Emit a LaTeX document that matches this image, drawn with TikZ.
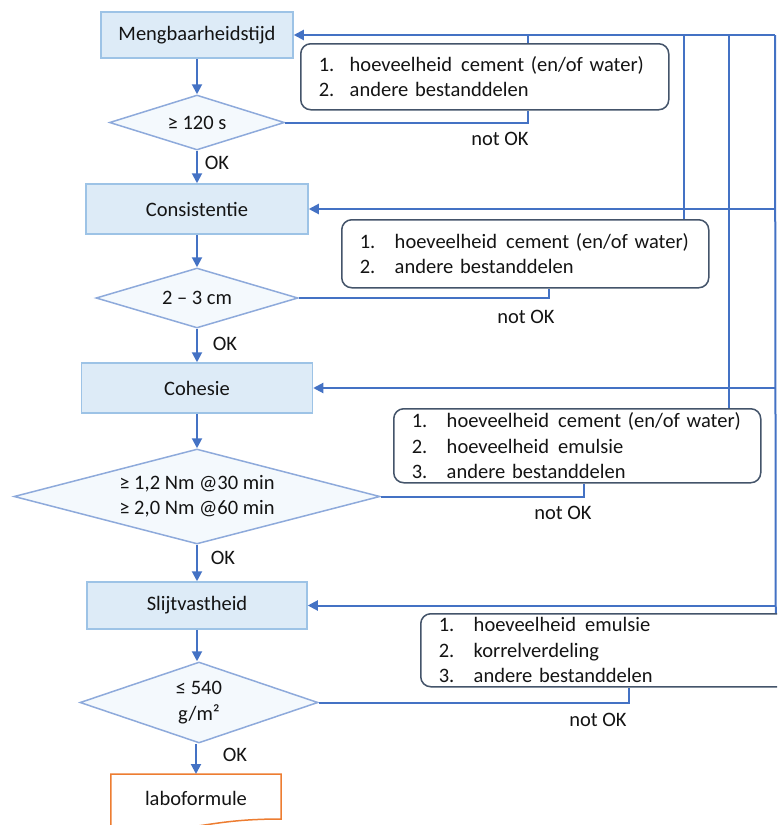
\documentclass[tikz,border=0pt]{standalone}
\usepackage{fontspec}
\setmainfont{Carlito}
\usetikzlibrary{shapes.geometric,arrows.meta,calc}
\definecolor{connc}{HTML}{4472C4}
\definecolor{boxfill}{HTML}{DDEBF7}
\definecolor{boxline}{HTML}{9DC3E6}
\definecolor{diafill}{HTML}{F4F9FD}
\definecolor{dialine}{HTML}{8EAADB}
\definecolor{listline}{HTML}{44546A}
\definecolor{labo}{HTML}{ED7D31}
\definecolor{txt}{HTML}{141414}
\begin{document}
\begin{tikzpicture}[x=1pt,y=-1pt,
  font=\fontsize{20.5}{25.5}\selectfont,
  flowbox/.style={draw=boxline, fill=boxfill, line width=1.5pt, minimum width=#1, inner sep=0pt, text=txt},
  dia/.style={shape=diamond, shape aspect=4, draw=dialine, fill=diafill, line width=1.5pt, inner sep=0pt, text=txt, align=center},
  listbox/.style={draw=listline, fill=white, line width=1.5pt, rounded corners=10pt, inner xsep=18pt, inner ysep=0pt, align=left, text=txt, anchor=north west},
  conn/.style={draw=connc, line width=2pt},
  arr/.style={conn, -{Triangle[length=10pt,width=10pt]}},
  lbl/.style={inner sep=0pt, text=txt}]
\useasboundingbox (0,0) rectangle (777,825);
\clip (0,0) rectangle (777,825);

% main flow
\node[flowbox=192pt, minimum height=46pt] (b1) at (197,35) {Mengbaarheidstijd};
\node[dia, minimum width=175pt, minimum height=55pt] (d1) at (197,122.5) {≥ 120 s};
\node[flowbox=222pt, minimum height=50pt] (b2) at (197,209) {Consistentie};
\node[dia, minimum width=202pt, minimum height=60pt] (d2) at (197,298) {2 – 3 cm};
\node[flowbox=231pt, minimum height=50pt] (b3) at (197,388) {Cohesie};
\node[dia, minimum width=366pt, minimum height=95pt] (d3) at (197,496.5) {≥ 1,2 Nm @30 min\\≥ 2,0 Nm @60 min};
\node[flowbox=220pt, minimum height=47pt] (b4) at (197,605.5) {Slijtvastheid};
\node[dia, minimum width=238pt, minimum height=81pt] (d4) at (199,702.5) {≤ 540\\g/m²};
\node[inner sep=0pt, minimum width=170pt, minimum height=48pt, anchor=north, text=txt] (b5) at (196,774) {laboformule};
\draw[draw=labo, line width=1.5pt] (b5.north west) -- (b5.north east) -- ($(b5.north east)+(0,45)$)
  .. controls ($(b5.north)+(0,45)$) and ($(b5.north)+(0,62)$) .. ($(b5.north west)+(0,52)$) -- cycle;

% remedy boxes
\node[listbox, text width=332pt, minimum height=66pt] (l1) at (300,43)
  {\makebox[31pt][l]{1.}hoeveelheid\hspace{0.45em}cement (en/of water)\\\makebox[31pt][l]{2.}andere bestanddelen};
\node[listbox, text width=331pt, minimum height=68pt] (l2) at (341,219)
  {\makebox[35pt][l]{1.}hoeveelheid\hspace{0.45em}cement (en/of water)\\\makebox[35pt][l]{2.}andere bestanddelen};
\node[listbox, text width=331pt, minimum height=74pt] (l3) at (393,408)
  {\makebox[35pt][l]{1.}hoeveelheid\hspace{0.45em}cement (en/of water)\\\makebox[35pt][l]{2.}hoeveelheid\hspace{0.45em}emulsie\\\makebox[35pt][l]{3.}andere bestanddelen};
\node[listbox, text width=364pt, minimum height=73pt] (l4) at (420,613)
  {\makebox[35pt][l]{1.}hoeveelheid\hspace{0.45em}emulsie\\\makebox[35pt][l]{2.}korrelverdeling\\\makebox[35pt][l]{3.}andere bestanddelen};

% labels
\node[lbl] (ok1) at (217,163) {OK};
\node[lbl] (ok2) at (225,344) {OK};
\node[lbl] (ok3) at (223,558) {OK};
\node[lbl] (ok4) at (235,755) {OK};
\node[lbl] (nok1) at (500,139) {not OK};
\node[lbl] (nok2) at (526,317) {not OK};
\node[lbl] (nok3) at (563,513) {not OK};
\node[lbl] (nok4) at (598,720) {not OK};

% flow arrows
\draw[arr] (b1.south) -- (d1.north);
\draw[arr] (d1.south) -- (b2.north);
\draw[arr] (b2.south) -- (d2.north);
\draw[arr] (d2.south) -- (b3.north);
\draw[arr] (b3.south) -- (d3.north);
\draw[arr] (d3.south) -- (b4.north);
\draw[arr] (b4.south) -- (d4.north -| b4.south);
\draw[arr] (d4.south -| b5.north) -- (b5.north);

% not OK connectors
\draw[conn] (d1.east) -| ([xshift=43pt]l1.south);
\draw[conn] (d2.east) -| ([xshift=23.5pt]l2.south);
\draw[conn] (d3.east) -| ([xshift=6.5pt]l3.south);
\draw[conn] (d4.east) -| ([xshift=8pt]l4.south);

% feedback bus
\coordinate (bus) at (775,35);
\draw[conn] ([xshift=43pt]l1.north) |- (bus);
\draw[conn] ([xshift=158.5pt]l2.north) |- (bus);
\draw[conn] ([xshift=151.5pt]l3.north) |- (bus);
\draw[conn] ([xshift=155pt]l4.north) -- (bus);
\draw[arr] (bus) -- (b1.east);
\draw[arr] (b2.east -| bus) -- (b2.east);
\draw[arr] (b3.east -| bus) -- (b3.east);
\draw[arr] (b4.east -| bus) -- (b4.east);
\end{tikzpicture}
\end{document}
